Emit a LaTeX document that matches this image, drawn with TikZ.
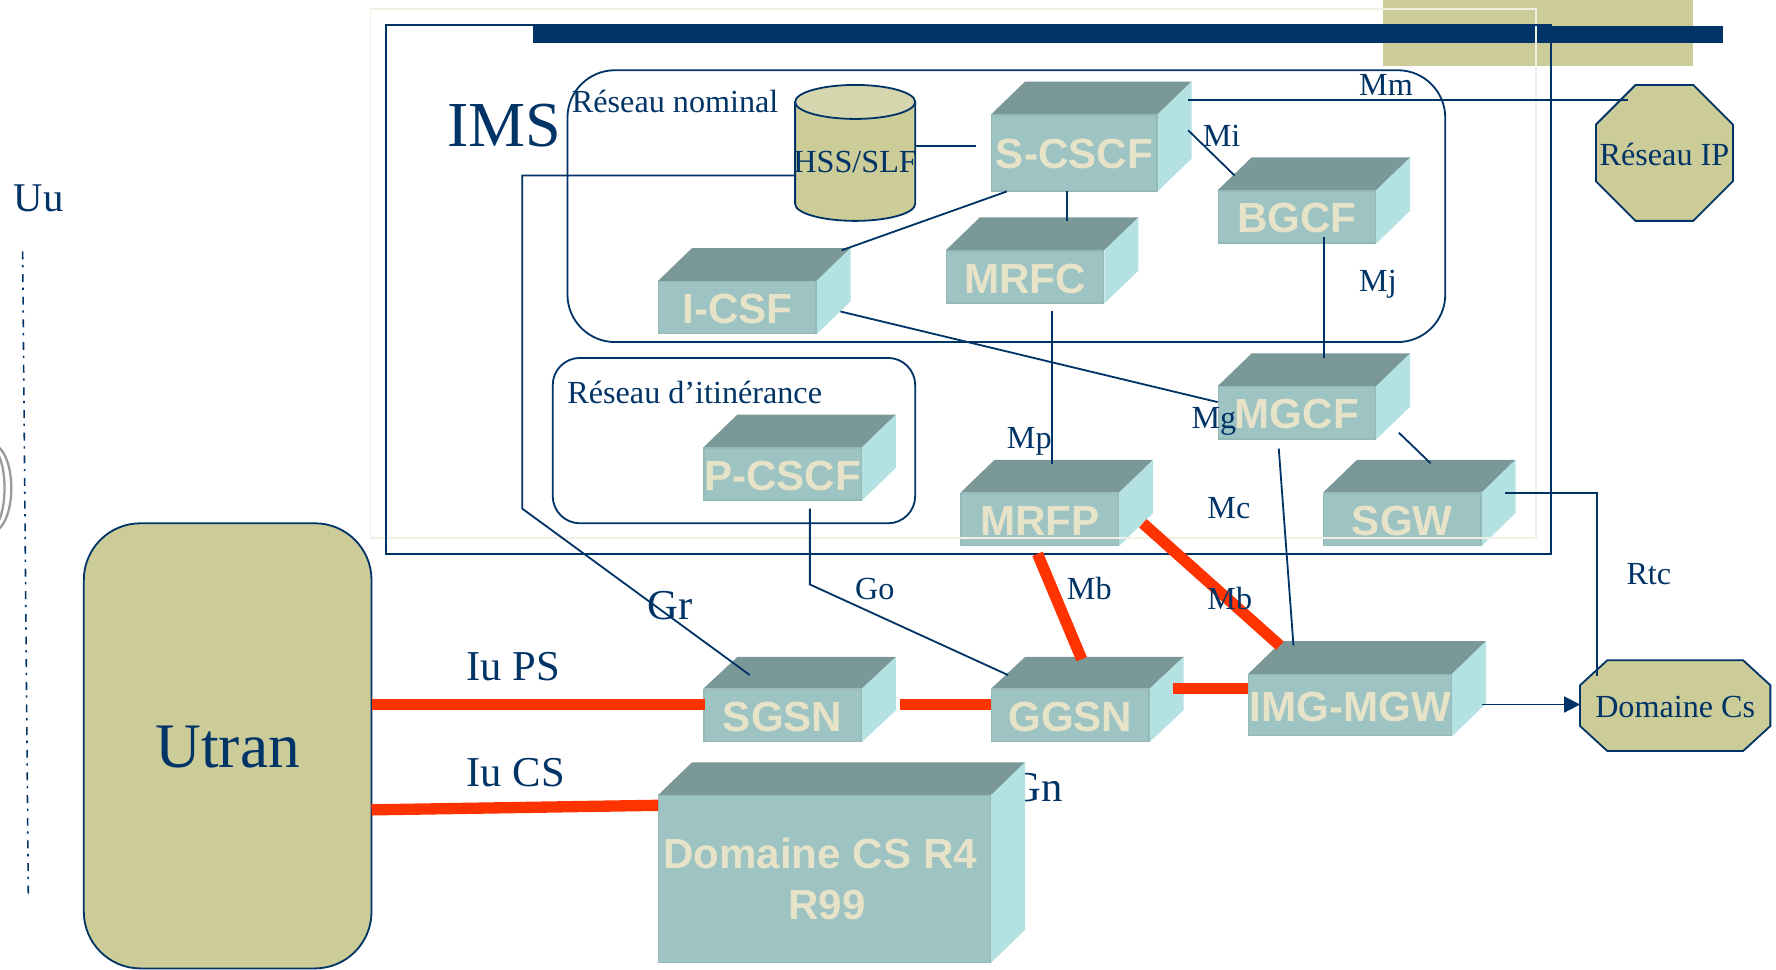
\documentclass[tikz,border=0pt]{standalone}
\usepackage{fontspec}
\setmainfont{Liberation Serif}
\newfontfamily\boxfont{Liberation Sans}
\usetikzlibrary{arrows.meta}
\definecolor{navy}{HTML}{003366}
\definecolor{khaki}{HTML}{CCCC99}
\definecolor{khakilight}{HTML}{D6D6AE}
\definecolor{cubefront}{HTML}{9EC3C3}
\definecolor{cubeedge}{HTML}{93B9B9}
\definecolor{cubetop}{HTML}{7A9898}
\definecolor{cubeside}{HTML}{B4E1E1}
\definecolor{cubetext}{HTML}{E6E3C8}
\definecolor{redlink}{HTML}{FF3300}
\definecolor{paleframe}{HTML}{F0F0E4}
\newcommand\dn[1]{\raisebox{-0.7pt}[\height][\depth]{#1}}
\tikzset{
  navyline/.style={draw=navy,line width=0.8pt},
  redline/.style={draw=redlink,line width=5pt},
  lab/.style={anchor=base west,inner sep=0pt,outer sep=0pt,text=navy,font=\fontsize{14.2}{16}\selectfont},
  biglab/.style={lab,font=\fontsize{18.8}{22}\selectfont},
  cubelabel/.style={inner sep=0pt,outer sep=0pt,fill=cubefront,draw=cubeedge,line width=0.6pt,text=cubetext,align=center,
     font=\boxfont\bfseries\fontsize{18.6}{22.5}\selectfont},
  octa/.style={draw=navy,fill=khaki,line width=0.8pt,line join=miter},
}
% name, front x0,y0,x1,y1, depth dx,dy, text
\newcommand\cubebox[8]{%
  \fill[cubetop] (#2,#3) -- ({#2+#6},{#3-#7}) -- ({#4+#6},{#3-#7}) -- (#4,#3) -- cycle;
  \fill[cubeside] (#4,#3) -- ({#4+#6},{#3-#7}) -- ({#4+#6},{#5-#7}) -- (#4,#5) -- cycle;
  \node[cubelabel,minimum width={(#4-#2-1)*0.5},minimum height={(#5-#3-1)*0.5}] (#1) at ({(#2+#4)/2},{(#3+#5)/2}) {#8};
}
% name, x0,y0,x1,y1, cutx,cuty, text
\newcommand\octabox[8]{%
  \draw[octa] ({#2+#6},#3) -- ({#4-#6},#3) -- (#4,{#3+#7}) -- (#4,{#5-#7}) -- ({#4-#6},#5) -- ({#2+#6},#5) -- (#2,{#5-#7}) -- (#2,{#3+#7}) -- cycle;
  \node[inner sep=0pt,text=navy,font=\fontsize{14.2}{16}\selectfont] (#1) at ({(#2+#4)/2},{(#3+#5)/2}) {\dn{#8}};
}
\begin{document}
\begin{tikzpicture}[x=0.5pt,y=-0.5pt]
\clip (0,0) rectangle (1568,855.6);
\fill[white] (0,0) rectangle (1568,855.6);

% background band and bar
\fill[khaki] (1221,0) rectangle (1495,58);
\fill[navy] (471,22) rectangle (1369,38);
\fill[navy] (1369,23) rectangle (1521,38);

% grey arcs, left edge
\draw[gray!80,line width=1pt] (-7,431) ellipse [x radius=17,y radius=38.5];
\draw[gray!80,line width=1pt] (-7,431) ellipse [x radius=11,y radius=34];

% Uu boundary
\coordinate (uutop) at (20,222);
\coordinate (uubot) at (25,790);
\draw[navy,line width=0.7pt,dash pattern=on 3.5pt off 2.5pt on 1pt off 3pt] (uutop) -- (uubot);

% frames
\node[navyline,rounded corners=21pt,inner sep=0pt,minimum width={775*0.5},minimum height={240*0.5}] (nominal) at (888.5,182) {};
\node[navyline,rounded corners=12pt,inner sep=0pt,minimum width={320*0.5},minimum height={146*0.5}] (roaming) at (648,389) {};

% text behind the big box
\node[biglab] (lgn) at (892,708) {Gn};

% HSS cylinder
\draw[navyline,fill=khaki] (702,90) -- (702,180) arc[start angle=180,end angle=0,x radius=53,y radius=15] -- (808,90) -- cycle;
\draw[navyline,fill=khakilight] (755,90) ellipse [x radius=53,y radius=15];
\node[inner sep=0pt,text=navy,font=\fontsize{14.2}{16}\selectfont] (hss) at (755,143) {HSS/SLF};

% cubes
\cubebox{scscf}{875}{101}{1022}{169}{30}{29}{\dn{S-CSCF}}
\cubebox{bgcf}{1075}{168}{1215}{215}{30}{29}{\dn{BGCF}}
\cubebox{mrfc}{835}{221}{975}{268}{30}{29}{\dn{MRFC}}
\cubebox{icsf}{581}{248}{721}{295}{30}{29}{\dn{I-CSF}}
\cubebox{mgcf}{1075}{341}{1215}{388}{30}{29}{\dn{MGCF}}
\cubebox{pcscf}{621}{395}{761}{442}{30}{29}{\dn{P-CSCF}}
\cubebox{mrfp}{848}{435}{988}{482}{30}{29}{\dn{MRFP}}
\cubebox{sgw}{1168}{435}{1308}{482}{30}{29}{\dn{SGW}}
\cubebox{sgsn}{621}{608}{761}{655}{30}{28}{\dn{SGSN}}
\cubebox{ggsn}{875}{608}{1015}{655}{30}{28}{\dn{GGSN}}
\cubebox{imgmgw}{1102}{595}{1282}{650}{30}{29}{\dn{IMG-MGW}}
\cubebox{cshort}{581}{702}{875}{850}{30}{29}{Domaine CS R4\hspace*{4pt}\\\hspace*{2pt}R99}

% pale frame, over the boxes, then the navy frame
\node[draw=paleframe,line width=0.6pt,inner sep=0pt,minimum width={1029*0.5},minimum height={467*0.5}] (paleframe) at (841.5,241.5) {};
\node[navyline,inner sep=0pt,minimum width={1028*0.5},minimum height={467*0.5}] (imsframe) at (855,255.5) {};

% outer entities
\node[draw=navy,fill=khaki,line width=0.8pt,rounded corners=25pt,inner sep=0pt,minimum width={254*0.5},minimum height={393*0.5},text=navy,font=\fontsize{28}{32}\selectfont] (utran) at (201,658.5) {\dn{Utran}};
\octabox{reseauip}{1409}{75}{1530}{195}{35}{35}{Réseau IP}
\octabox{domcs}{1395}{583}{1563}{663}{24}{22}{Domaine Cs}

% named free ends
\coordinate (utrps) at (328,622);
\coordinate (sgsnl) at (622,622);
\coordinate (sgsnr) at (795,622);
\coordinate (ggsnl) at (875,622);
\coordinate (ggsnr) at (1036,608);
\coordinate (imgl) at (1102,608);
\coordinate (utrcs) at (328,715);
\coordinate (csl) at (581,711);
\coordinate (mrfpb) at (916,489);
\coordinate (ggsnt) at (955,582);
\coordinate (mrfpr) at (1009,462);
\coordinate (imgt) at (1130,570);

\coordinate (hssr) at (808,129);
\coordinate (scscfl) at (862,129);
\coordinate (hssl) at (702,155);
\coordinate (gr1) at (461,155);
\coordinate (gr2) at (461,449);
\coordinate (sgsnt) at (662,596);
\coordinate (mma) at (1049,88);
\coordinate (mmb) at (1437,88);
\coordinate (mia) at (1049,115);
\coordinate (mib) at (1090,155);
\coordinate (sc1) at (942,169);
\coordinate (mrfct) at (942,195);
\coordinate (sc2) at (889,169);
\coordinate (icsft) at (743,221);
\coordinate (icsfr) at (742,275);
\coordinate (mgcfl) at (1075,355);
\coordinate (mrfcb) at (929,275);
\coordinate (mrfpt) at (929,410);
\coordinate (bgcfb) at (1169,209);
\coordinate (mgcft) at (1169,316);
\coordinate (mgcfr) at (1235,382);
\coordinate (sgwt) at (1263,409);
\coordinate (mgcfb) at (1129,396);
\coordinate (imgt2) at (1142,570);
\coordinate (pb) at (715,449);
\coordinate (go1) at (715,516);
\coordinate (ggsnt2) at (890,596);
\coordinate (sgwr) at (1329,435);
\coordinate (rt1) at (1410,435);
\coordinate (domt) at (1410,597);
\coordinate (imgr) at (1308,622);
\coordinate (doml) at (1395,622);

% red links
\draw[redline] (utrps) -- (sgsnl);
\draw[redline] (sgsnr) -- (ggsnl);
\draw[redline] (ggsnr) -- (imgl);
\draw[redline] (utrcs) -- (csl);
\draw[redline] (mrfpb) -- (ggsnt);
\draw[redline] (mrfpr) -- (imgt);

% labels
\node[lab,font=\fontsize{28.3}{30}\selectfont] (lims) at (395,129) {IMS};
\node[lab] (lnom) at (505,99) {Réseau nominal};
\node[lab] (liti) at (501,356) {Réseau d’itinérance};
\node[biglab,font=\fontsize{18}{22}\selectfont] (luu) at (12,187) {Uu};
\node[lab] (lmm) at (1200,84) {Mm};
\node[lab] (lmi) at (1062,129) {Mi};
\node[lab] (lmj) at (1200,257) {Mj};
\node[lab] (lmp) at (889,396) {Mp};
\node[lab] (lmg) at (1052,378) {Mg};
\node[lab] (lmc) at (1066,458) {Mc};
\node[lab] (lmb) at (942,529) {Mb};
\node[lab] (lmbb) at (1066,538) {Mb};
\node[lab] (lgo) at (755,529) {Go};
\node[biglab] (lgr) at (572,547) {Gr};
\node[lab] (lrtc) at (1436,516) {Rtc};
\node[biglab] (lips) at (412,601) {Iu PS};
\node[biglab] (lics) at (412,694) {Iu CS};

% navy connectors
\draw[navyline] (hssr) -- (scscfl);
\draw[navyline] (hssl) -- (gr1) -- (gr2) -- (sgsnt);
\draw[navyline] (mma) -- (mmb);
\draw[navyline] (mia) -- (mib);
\draw[navyline] (sc1) -- (mrfct);
\draw[navyline] (sc2) -- (icsft);
\draw[navyline] (icsfr) -- (mgcfl);
\draw[navyline] (mrfcb) -- (mrfpt);
\draw[navyline] (bgcfb) -- (mgcft);
\draw[navyline] (mgcfr) -- (sgwt);
\draw[navyline] (mgcfb) -- (imgt2);
\draw[navyline] (pb) -- (go1) -- (ggsnt2);
\draw[navyline] (sgwr) -- (rt1) -- (domt);
\draw[navyline,-{Triangle[length=7pt,width=7pt]}] (imgr) -- (doml);
\end{tikzpicture}
\end{document}
